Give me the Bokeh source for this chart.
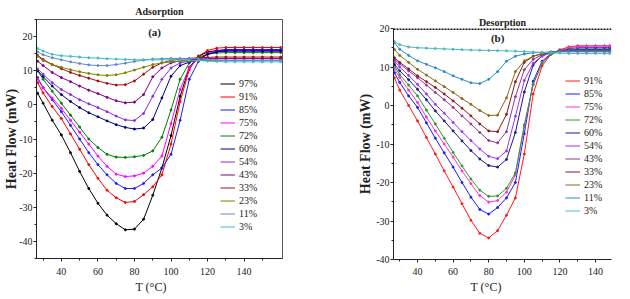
from bokeh.plotting import figure
from bokeh.layouts import row
from bokeh.models import Span, FixedTicker, Title, Label
from bokeh.embed import file_html
from bokeh.resources import INLINE

# ---------------- data: adsorption ----------------
T_ads = [27, 30, 35, 40, 45, 50, 55, 60, 65, 70, 75, 80, 85, 90, 95, 100,
         105, 110, 115, 120, 125, 130, 135, 140, 145, 150, 155, 160]
ads_labels = ["97%", "91%", "85%", "75%", "72%", "60%", "54%", "43%", "33%", "23%", "11%", "3%"]
ads_97 = [3.4, 0.5, -4.5, -8.8, -14, -19.5, -24.5, -28.8, -32.3, -34.8, -36.6, -36.4, -33.5, -26.5, -18.5, -9,
          2.5, 11, 14.2, 15.5, 15.9, 16, 16, 16, 16, 16, 16, 16]
ads_91 = [6.5, 3.5, -0.5, -4, -8.5, -13, -17.5, -21.5, -25, -27.2, -28.6, -28.3, -26.3, -24, -20.5, -11.5,
          1, 10.3, 14.3, 15.9, 16.6, 16.8, 16.8, 16.8, 16.8, 16.8, 16.8, 16.8]
ads_85 = [8, 5, 1.5, -2, -6, -10, -14, -17.5, -20.5, -23, -24.5, -24.5, -23, -20.5, -18.5, -14.5,
          -4.5, 7.5, 12.7, 15, 15.9, 16.2, 16.2, 16.2, 16.2, 16.2, 16.2, 16.2]
ads_75 = [7.5, 5, 2, -1, -4.5, -8, -11.5, -15, -18, -20.3, -21, -20.8, -20, -18, -15, -5.5,
          4.5, 11, 13.5, 15, 15.6, 15.7, 15.7, 15.7, 15.7, 15.7, 15.7, 15.7]
ads_72 = [10, 7.5, 4, 0.5, -3, -6.5, -10, -12.5, -14.5, -15.3, -15.4, -15.2, -14.8, -13.5, -9.5, -1.5,
          7.5, 12.3, 14, 14.8, 15.2, 15.3, 15.3, 15.3, 15.3, 15.3, 15.3, 15.3]
ads_60 = [10, 8.3, 5.5, 3, 1, -0.8, -2.3, -3.5, -4.7, -5.8, -6.6, -7.1, -6.8, -4.3, 2, 8.4,
          11.5, 12.5, 13.3, 14.8, 15.5, 15.8, 15.8, 15.8, 15.8, 15.8, 15.8, 15.8]
ads_54 = [10.5, 9, 6.5, 4.5, 3, 1.5, 0.3, -0.8, -2, -3.3, -4.4, -4.6, -2.5, 2.5, 7.5, 10.8,
          12.3, 12.8, 13.2, 13.5, 13.6, 13.6, 13.6, 13.6, 13.6, 13.6, 13.6, 13.6]
ads_43 = [12.8, 11.5, 9.5, 8, 6.8, 5.5, 4.3, 3.3, 2.2, 1.2, 0.6, 0.8, 3, 8.2, 10.8, 12.3,
          12.9, 13.2, 13.4, 13.5, 13.5, 13.5, 13.5, 13.5, 13.5, 13.5, 13.5, 13.5]
ads_33 = [14.5, 13.3, 11.8, 10.6, 9.5, 8.6, 7.8, 7, 6.3, 5.8, 5.9, 7, 9, 11, 12.3, 13,
          13.4, 13.6, 13.8, 13.9, 14, 14, 14, 14, 14, 14, 14, 14]
ads_23 = [14.2, 13, 11.8, 11, 10.3, 9.7, 9.2, 8.8, 8.6, 8.8, 9.4, 10.2, 11, 11.8, 12.3, 12.6,
          12.8, 12.9, 13, 13, 13, 13, 13, 13, 13, 13, 13, 13]
ads_11 = [15.5, 14.7, 13.8, 13.2, 12.6, 12.1, 11.7, 11.5, 11.5, 11.8, 12.2, 12.7, 13.1, 13.4, 13.5, 13.6,
          13.6, 13.6, 13.5, 13.3, 13.1, 13, 13, 13, 13, 13, 13, 13]
ads_3 = [16.5, 15.8, 14.8, 14.4, 14.2, 14, 13.8, 13.7, 13.5, 13.4, 13.3, 13.2, 13.2, 13.2, 13.2, 13.2,
         13.2, 13.1, 13, 12.8, 12.7, 12.6, 12.6, 12.6, 12.6, 12.6, 12.6, 12.6]
ads_series = [ads_97, ads_91, ads_85, ads_75, ads_72, ads_60, ads_54, ads_43, ads_33, ads_23, ads_11, ads_3]
ads_colors = ["#000000", "#ff0000", "#1a1aff", "#ff00ff", "#008000", "#000080", "#8a2be2",
              "#800080", "#a01010", "#808000", "#6688cc", "#40bcc8"]

# ---------------- data: desorption ----------------
T_des = [27, 30, 35, 40, 45, 50, 55, 60, 65, 70, 75, 80, 85, 90, 95, 100,
         105, 110, 115, 120, 125, 130, 135, 140, 145, 148]
des_labels = ["91%", "85%", "75%", "72%", "60%", "54%", "43%", "33%", "23%", "11%", "3%"]
des_91 = [7.2, 4, 0, -4, -8.3, -12.6, -17, -21.2, -25.5, -29.8, -33.2, -34.4, -32.5, -28.5, -24, -12.6,
          3, 10.3, 13.3, 14.5, 15.2, 15.5, 15.5, 15.5, 15.5, 15.5]
des_85 = [8.5, 6, 2.5, -0.5, -4.5, -8.5, -12.3, -16, -20, -23.8, -27, -28.2, -26.5, -24, -20, -7.3,
          6.3, 11.5, 13.5, 14.3, 14.8, 15, 15, 15, 15, 15]
des_75 = [9.4, 7.3, 4, 0.8, -3, -6.6, -10, -13.4, -17, -20.3, -23.4, -25.1, -24.7, -22.5, -18, -5.5,
          5.5, 11.2, 13.3, 14.3, 15, 15.3, 15.4, 15.4, 15.4, 15.4]
des_72 = [10.3, 8, 5.3, 2.5, -1.2, -4.8, -8.5, -12.2, -15.7, -19.1, -22, -23.6, -23.5, -21.5, -17.5, -5,
          5.5, 11, 13.3, 14.3, 14.6, 14.7, 14.7, 14.7, 14.7, 14.7]
des_60 = [10.7, 9, 6.7, 4.2, 1.5, -1.4, -4, -6.6, -9.2, -11.7, -13.9, -15.6, -16, -14, -7, 3.5,
          10.5, 13, 13.8, 14.2, 14.4, 14.5, 14.5, 14.5, 14.5, 14.5]
des_54 = [11.5, 10, 7.8, 5.5, 3, 0.3, -2, -4.4, -6.8, -9.1, -11.3, -13.2, -13.8, -11.8, -2.8, 6.5,
          11, 12.8, 13.7, 14.2, 14.3, 14.3, 14.3, 14.3, 14.3, 14.3]
des_43 = [12, 10.8, 9, 7.2, 5.3, 3.4, 1.5, -0.5, -2.7, -4.8, -7, -9.1, -9.7, -6.8, 2.3, 9.3,
          12, 13.2, 13.8, 14.1, 14.2, 14.2, 14.2, 14.2, 14.2, 14.2]
des_33 = [12.4, 11.2, 9.5, 7.7, 6.2, 4.7, 3, 1.2, -0.7, -2.7, -4.8, -6.6, -6.8, -2.3, 6.2, 11.2,
          12.8, 13.5, 13.9, 14, 14, 14, 14, 14, 14, 14]
des_23 = [14.6, 13, 11.2, 9.4, 7.9, 6.4, 4.9, 3.4, 1.8, 0.3, -1.3, -2.6, -2.5, 2, 8.8, 11.6,
          12.8, 13.4, 13.8, 14, 14, 14, 14, 14, 14, 14]
des_11 = [16.3, 14.6, 13, 11.6, 10.7, 9.8, 8.8, 7.7, 6.8, 5.9, 5.7, 6.8, 8.8, 11.5, 12.8, 13.4,
          13.7, 13.8, 13.9, 14, 14, 14, 14, 14, 14, 14]
des_3 = [16.6, 15.8, 15.2, 15, 14.9, 14.8, 14.7, 14.6, 14.5, 14.4, 14.35, 14.3, 14.25, 14.2, 14.1, 14,
         13.9, 13.8, 13.7, 13.6, 13.5, 13.5, 13.5, 13.5, 13.5, 13.5]
des_series = [des_91, des_85, des_75, des_72, des_60, des_54, des_43, des_33, des_23, des_11, des_3]
des_colors = ["#ff1a1a", "#1a1aff", "#ff33cc", "#2e9a2e", "#1a1a8c", "#9933ff", "#993399",
              "#8b1a1a", "#8b6a14", "#2a8cc4", "#4fb8c0"]

x_major = [40, 60, 80, 100, 120, 140]
x_minor = [30, 50, 70, 90, 110, 130, 150]
y_major = [-40, -30, -20, -10, 0, 10, 20]
y_tick_text = {-40: "-40", -30: "-30", -20: "-20", -10: "-10", 0: "0", 10: "10", 20: "20"}

SERIF = "Liberation Serif"
INK = "#222222"


def style_axes(p, y_minor, x_standoff, ylabel_standoff):
    if "frame_align" in p.properties():
        p.frame_align = False
    p.xgrid.visible = False
    p.ygrid.visible = False
    p.xaxis.ticker = FixedTicker(ticks=x_major, minor_ticks=x_minor)
    p.yaxis.ticker = FixedTicker(ticks=y_major, minor_ticks=y_minor)
    p.yaxis.major_label_overrides = y_tick_text
    for ax in (p.xaxis[0], p.yaxis[0]):
        ax.major_label_text_font = SERIF
        ax.major_label_text_font_size = "10px"
        ax.major_label_text_color = INK
        ax.axis_line_color = INK
        ax.major_tick_line_color = INK
        ax.minor_tick_line_color = INK
        ax.major_tick_out = 3
        ax.major_tick_in = 0
        ax.minor_tick_out = 2
        ax.minor_tick_in = 0
    p.yaxis.major_label_standoff = 1
    p.xaxis.major_label_standoff = x_standoff
    p.yaxis.axis_label = "Heat Flow (mW)"
    p.yaxis.axis_label_text_font = SERIF
    p.yaxis.axis_label_text_font_style = "bold"
    p.yaxis.axis_label_text_font_size = "14px"
    p.yaxis.axis_label_text_color = INK
    p.yaxis.axis_label_standoff = ylabel_standoff


def add_series(p, T, series, labels, colors):
    for s, lab, c in zip(series, labels, colors):
        p.line(T, s, line_color=c, line_width=1, legend_label=lab)
        p.scatter(T, s, size=2, color=c)


def style_legend(p, loc):
    lg = p.legend[0]
    lg.location = loc
    lg.border_line_color = None
    lg.background_fill_alpha = 0
    lg.padding = 0
    lg.margin = 0
    lg.spacing = 0
    lg.glyph_width = 15
    lg.glyph_height = 13
    lg.label_height = 13
    lg.label_standoff = 4
    lg.label_text_font = SERIF
    lg.label_text_font_size = "10px"
    lg.label_text_color = INK


def set_titles(p, top_text, top_standoff, xlabel_offset):
    p.title.text = top_text
    p.title.align = "center"
    p.title.text_font = SERIF
    p.title.text_font_style = "bold"
    p.title.text_font_size = "10px"
    p.title.text_color = INK
    p.title.standoff = top_standoff
    p.add_layout(Title(text="T (°C)", align="left", offset=xlabel_offset, text_font=SERIF,
                       text_font_style="normal", text_font_size="12px", text_color=INK,
                       standoff=0), "below")


# ---------------- left panel ----------------
p1 = figure(width=310, height=299, output_backend="svg", toolbar_location=None,
            x_range=(26.4, 161), y_range=(-45, 25),
            min_border_left=36, min_border_right=28, min_border_top=19, min_border_bottom=41,
            background_fill_color="white", border_fill_color="white")
p1.outline_line_color = "#555555"
style_axes(p1, [-45, -35, -25, -15, -5, 5, 15, 25], 6, -3)
add_series(p1, T_ads, ads_series, ads_labels, ads_colors)
style_legend(p1, (184, 25))
set_titles(p1, "Adsorption", 5, 99)
p1.add_layout(Label(x=91, y=21.2, text="(a)", text_font=SERIF, text_font_style="bold",
                    text_font_size="11px", text_align="center", text_baseline="middle",
                    text_color=INK))

# ---------------- right panel ----------------
p2 = figure(width=320, height=299, output_backend="svg", toolbar_location=None,
            x_range=(26.5, 149), y_range=(-40, 20),
            min_border_left=83, min_border_right=19, min_border_top=28, min_border_bottom=40,
            background_fill_color="white", border_fill_color="white")
p2.outline_line_color = None
style_axes(p2, [-35, -25, -15, -5, 5, 15], 5, 0)
add_series(p2, T_des, des_series, des_labels, des_colors)
style_legend(p2, (172, 42))
p2.add_layout(Span(location=20, dimension="width", line_color="#111111", line_width=3,
                   line_dash="2 1"))
set_titles(p2, "Desorption", 2, 77)
p2.add_layout(Label(x=85, y=17.5, text="(b)", text_font=SERIF, text_font_style="bold",
                    text_font_size="11px", text_align="center", text_baseline="middle",
                    text_color=INK))

layout = row(p1, p2)
open("out.html", "w").write(file_html(layout, INLINE))
